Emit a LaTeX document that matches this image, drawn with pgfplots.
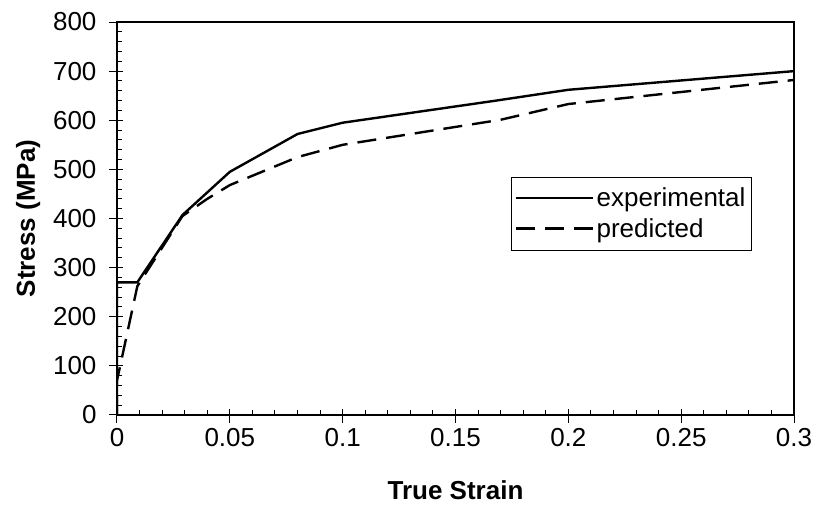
\documentclass[border=0pt]{standalone}
\usepackage{pgfplots}
\pgfplotsset{compat=1.18}
\usepackage{fontspec}
\setmainfont{Liberation Sans}

% experimental and predicted true stress-strain curves
\pgfplotstableread{
strain stress
0      0
0      270
0.009  270
0.029  407
0.050  495
0.080  572
0.100  595
0.168  640
0.200  662
0.300  700
}\experimental

\pgfplotstableread{
strain stress
0      0
0      70
0.009  262
0.029  405
0.040  440
0.050  468
0.080  525
0.100  550
0.170  601
0.200  633
0.300  682
}\predicted

\begin{document}
\begin{tikzpicture}[x=1pt,y=1pt]
\path[use as bounding box] (-117,-101) rectangle (699,415);
\begin{axis}[
  at={(0,0)}, anchor=south west,
  scale only axis,
  width=677pt, height=393pt,
  xmin=0, xmax=0.3, ymin=0, ymax=800,
  xtick={0,0.05,...,0.3},
  xticklabels={0,0.05,0.1,0.15,0.2,0.25,0.3},
  ytick={0,100,...,800},
  minor x tick num=4,
  minor y tick num=4,
  tick align=inside,
  major tick length=6pt,
  minor tick length=5pt,
  xtick pos=bottom, ytick pos=left,
  extra x ticks={0,0.05,0.1,0.15,0.2,0.25,0.3},
  extra x tick labels={},
  extra y ticks={0,100,200,300,400,500,600,700,800},
  extra y tick labels={},
  extra tick style={tick align=outside, major tick length=8pt},
  axis line style={line width=1.6pt},
  every tick/.style={black, line width=1pt},
  tick label style={font=\fontsize{26}{31}\selectfont},
  /pgf/number format/assume math mode=true,
  xticklabel style={yshift=-10pt},
  yticklabel style={xshift=-17pt},
  xlabel={\bfseries True Strain},
  ylabel={\bfseries Stress (MPa)},
  label style={font=\fontsize{26}{31}\selectfont},
  xlabel style={yshift=-19pt},
  ylabel style={yshift=-2pt},
  legend style={
    at={(0.582,0.606)}, anchor=north west,
    draw=black,
    font=\fontsize{26}{31}\selectfont,
    inner xsep=4pt, inner ysep=9pt,
    row sep=6pt,
    cells={anchor=west},
  },
  legend image code/.code={\draw[#1] (0pt,0pt) -- (77pt,0pt);},
]
\addplot[black, line width=2.4pt, line join=miter] table[x=strain,y=stress] {\experimental};
\addlegendentry{experimental}
\addplot[black, line width=2.4pt, dash pattern=on 19pt off 10pt] table[x=strain,y=stress] {\predicted};
\addlegendentry{predicted}
\end{axis}
\end{tikzpicture}
\end{document}
